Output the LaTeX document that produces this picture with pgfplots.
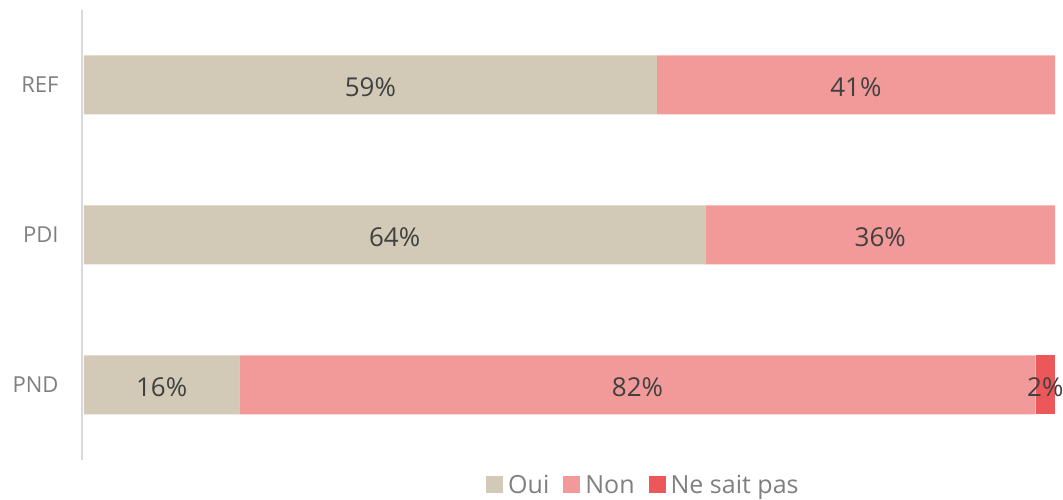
\documentclass[border=0pt]{standalone}
\usepackage{pgfplots}
\usepackage{pgfplotstable}
\pgfplotsset{compat=1.18}
\usepackage{fontspec}
\setmainfont{Open Sans}
\definecolor{cOui}{HTML}{D2CAB7}
\definecolor{cNon}{HTML}{F29A99}
\definecolor{cNsp}{HTML}{EC5759}
\definecolor{cLab}{HTML}{404040}
\definecolor{cTick}{HTML}{7F7F7F}
\definecolor{cAxis}{HTML}{D9D9D9}

\pgfplotstableread{
pos val
2 59
1 64
0 16
}\oui
\pgfplotstableread{
pos val
2 41
1 36
0 82
}\non
\pgfplotstableread{
pos val
2 0
1 0
0 2
}\nsp

\pgfplotsset{
  mylegimg/.style={legend image code/.code={\fill[##1] (0pt,-8pt) rectangle (17pt,9pt);}},
  mylabels/.style={
    visualization depends on={\thisrow{val} \as \v},
    nodes near coords={\pgfmathtruncatemacro\vv{\v}\ifnum\vv>0 \vv\%\fi},
    every node near coord/.append style={anchor=center, yshift=-2pt,
      font=\fontsize{26}{26}\selectfont, text=cLab},
  },
}

\begin{document}
\begin{tikzpicture}
\path[use as bounding box] (-82pt,-40pt) rectangle (981pt,460pt);
\begin{axis}[
  scale only axis, width=973pt, height=450pt,
  xmin=-0.2, xmax=100, ymin=-0.5, ymax=2.5,
  xbar stacked, bar width=59pt,
  axis x line=none,
  axis y line=left,
  axis line style={-, cAxis, line width=1.2pt},
  ytick={0,1,2}, yticklabels={PND,PDI,REF},
  major tick length=0pt,
  y tick label style={font=\fontsize{22}{22}\selectfont, text=cTick, xshift=-20pt},
  legend style={at={(0.577,-0.056)}, anchor=center, draw=none, fill=none,
    legend columns=-1, font=\fontsize{25}{25}\selectfont, text=cTick,
    /tikz/every odd column/.append style={column sep=3pt},
    /tikz/every even column/.append style={column sep=12pt}},
  clip=false,
]
\addplot[fill=cOui, draw=none, mylegimg, mylabels] table[x=val, y=pos] {\oui};
\addplot[fill=cNon, draw=none, mylegimg, mylabels] table[x=val, y=pos] {\non};
\addplot[fill=cNsp, draw=none, mylegimg, mylabels] table[x=val, y=pos] {\nsp};
\legend{Oui, Non, Ne sait pas}
\end{axis}
\end{tikzpicture}
\end{document}
